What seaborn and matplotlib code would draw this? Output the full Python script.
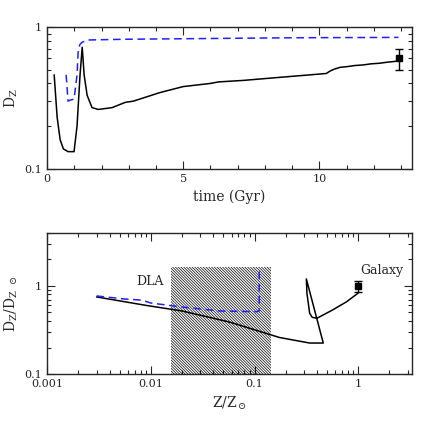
import numpy as np
import pandas as pd
import matplotlib
matplotlib.use('Agg')
import matplotlib.pyplot as plt
from matplotlib.ticker import MultipleLocator, NullFormatter
import seaborn as sns

# top panel: dust-to-metal ratio vs time
t_solid = [0.26, 0.37, 0.48, 0.60, 0.77, 0.99, 1.10, 1.21, 1.29, 1.36, 1.47, 1.65, 1.88,
           2.39, 2.87, 3.17, 4.15, 5.0, 6.0, 6.3, 7.2, 8.45, 9.67, 10.25, 10.4, 10.55, 10.77,
           11.0, 11.3, 11.6, 11.9, 12.2, 12.5, 12.7, 12.87]
d_solid = [0.46, 0.23, 0.16, 0.138, 0.132, 0.132, 0.20, 0.46, 0.72, 0.46, 0.33, 0.27, 0.262,
           0.27, 0.294, 0.30, 0.345, 0.38, 0.40, 0.41, 0.42, 0.44, 0.46, 0.47, 0.49, 0.505, 0.52,
           0.525, 0.535, 0.54, 0.55, 0.555, 0.565, 0.57, 0.575]
t_dash = [0.70, 0.77, 0.85, 0.99, 1.10, 1.14, 1.20, 1.28, 1.5, 2.87, 6.0, 9.0, 12.9]
d_dash = [0.46, 0.30, 0.305, 0.31, 0.46, 0.66, 0.75, 0.78, 0.81, 0.82, 0.83, 0.84, 0.845]
t_obs, d_obs, d_obs_lo, d_obs_hi = 12.94, 0.60, 0.50, 0.70

# bottom panel: normalised ratio vs metallicity
z_solid = [0.003, 0.0091, 0.020, 0.057, 0.174, 0.34, 0.46, 0.316, 0.32, 0.34, 0.36, 0.40,
           0.56, 0.77, 1.0]
r_solid = [0.75, 0.60, 0.52, 0.39, 0.26, 0.225, 0.225, 1.2, 0.83, 0.49, 0.44, 0.43,
           0.53, 0.66, 0.83]
z_dash = [0.003, 0.0056, 0.0082, 0.010, 0.019, 0.046, 0.104, 0.111, 0.111, 0.104]
r_dash = [0.77, 0.71, 0.69, 0.64, 0.58, 0.52, 0.51, 0.52, 1.44, 1.44]
z_gal, r_gal, r_gal_lo, r_gal_hi = 1.0, 1.0, 0.85, 1.14
dla_zmin, dla_zmax, dla_top = 0.0158, 0.143, 1.64

sns.set_style('ticks')
plt.rcParams['font.family'] = ['DejaVu Serif']
plt.rcParams['hatch.linewidth'] = 0.5
plt.rcParams['mathtext.fontset'] = 'dejavuserif'

fig = plt.figure(figsize=(4.36, 4.36), dpi=100)
ax1 = fig.add_axes([0.108, 0.613, 0.837, 0.325])
ax2 = fig.add_axes([0.108, 0.142, 0.837, 0.324])

top_solid = pd.DataFrame({'t': t_solid, 'd': d_solid})
top_dash = pd.DataFrame({'t': t_dash, 'd': d_dash})
sns.lineplot(data=top_solid, x='t', y='d', sort=False, estimator=None, color='black', lw=1.1, ax=ax1)
sns.lineplot(data=top_dash, x='t', y='d', sort=False, estimator=None, color='#1f1fff', lw=1.1,
             ax=ax1, linestyle=(0, (5, 3)))
ax1.errorbar([t_obs], [d_obs], yerr=[[d_obs - d_obs_lo], [d_obs_hi - d_obs]], fmt='s',
             color='black', ms=5, capsize=3, lw=1)
ax1.set_yscale('log')
ax1.set_xlim(0, 13.4)
ax1.set_ylim(0.1, 1)
ax1.set_xticks([0, 5, 10])
ax1.set_xticklabels(['0', '5', '10'])
ax1.xaxis.set_minor_locator(MultipleLocator(1))
ax1.set_yticks([0.1, 1])
ax1.set_yticklabels(['0.1', '1'])
ax1.set_xlabel('time (Gyr)', fontsize=10)
ax1.set_ylabel(r'D$_{\rm Z}$', fontsize=10)

ax2.fill_between([dla_zmin, dla_zmax], 0.1, dla_top, facecolor='none', edgecolor='black',
                 hatch='\\' * 12, lw=0)
bot_solid = pd.DataFrame({'z': z_solid, 'r': r_solid})
bot_dash = pd.DataFrame({'z': z_dash, 'r': r_dash})
sns.lineplot(data=bot_solid, x='z', y='r', sort=False, estimator=None, color='black', lw=1.1, ax=ax2)
sns.lineplot(data=bot_dash, x='z', y='r', sort=False, estimator=None, color='#1f1fff', lw=1.1,
             ax=ax2, linestyle=(0, (5, 3)))
ax2.errorbar([z_gal], [r_gal], yerr=[[r_gal - r_gal_lo], [r_gal_hi - r_gal]], fmt='s',
             color='black', ms=5, capsize=3, lw=1)
ax2.text(0.0098, 1.11, 'DLA', fontsize=9, ha='center', va='center')
ax2.text(1.7, 1.48, 'Galaxy', fontsize=9, ha='center', va='center')
ax2.set_xscale('log')
ax2.set_yscale('log')
ax2.set_xlim(0.001, 3.3)
ax2.set_ylim(0.1, 4)
ax2.set_xticks([0.001, 0.01, 0.1, 1])
ax2.set_xticklabels(['0.001', '0.01', '0.1', '1'])
ax2.set_yticks([0.1, 1])
ax2.set_yticklabels(['0.1', '1'])
ax2.set_xlabel(r'Z/Z$_\odot$', fontsize=10)
ax2.set_ylabel(r'D$_{\rm Z}$/D$_{\rm Z}$ $_\odot$', fontsize=10)

for ax in (ax1, ax2):
    ax.yaxis.set_minor_formatter(NullFormatter())
    ax.xaxis.set_minor_formatter(NullFormatter())
    ax.tick_params(which='both', direction='in', top=True, right=True, labelsize=8, width=0.8)
    ax.tick_params(which='major', length=6)
    ax.tick_params(which='minor', length=3)
    for s in ax.spines.values():
        s.set_linewidth(1.0)
        s.set_visible(True)
    ax.yaxis.set_label_coords(-0.075, 0.5)
    if ax.get_legend():
        ax.get_legend().remove()

plt.savefig('out.png', dpi=100)
